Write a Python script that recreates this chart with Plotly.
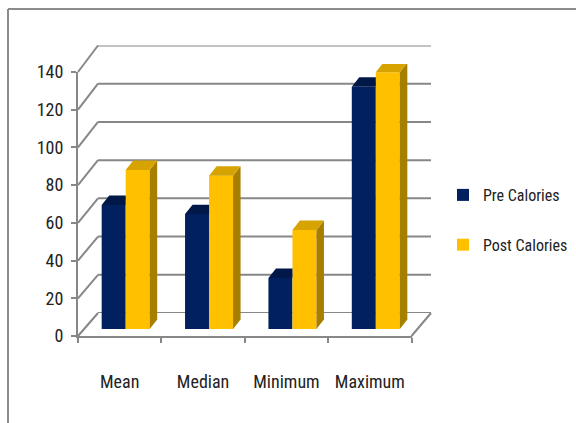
import plotly.graph_objects as go

# ---- data ----
categories = ["Mean", "Median", "Minimum", "Maximum"]
pre_calories = [65.5, 60.7, 27, 128]
post_calories = [84, 81, 52.3, 135.7]
y_ticks = [0, 20, 40, 60, 80, 100, 120, 140]

# ---- styling ----
FONT = "Roboto Condensed, DejaVu Sans Condensed, sans-serif"
TEXT = "#222222"
GRID = "#878787"
PRE_FRONT, PRE_TOP = "#002060", "#001848"
POST_FRONT, POST_TOP, POST_SIDE = "#FFC000", "#D6A300", "#A67F00"

W, H = 576, 423
BAR_W = 0.288          # width of a single column, in category units
DEPTH_X = 0.09         # column depth projected on x (category units)
DEPTH_Y = 5.0          # column depth projected on y (value units)

# pixel frames of the three depth planes: front wall, column plane, back wall
FRONT = dict(left=78, right=411.5, zero=336, top=72)
BARS = dict(left=84, right=417.5, zero=329, top=64)
BACK = dict(left=98, right=431, zero=313, top=45.5)
VMAX = 140


def xdom(p):
    return [p["left"] / W, p["right"] / W]


def ydom(p):
    return [1 - p["zero"] / H, 1 - p["top"] / H]


def to_paper(p, xpx, v):
    return xpx / W, 1 - (p["zero"] - (p["zero"] - p["top"]) * v / VMAX) / H


fig = go.Figure()

# front axes (tick labels) need a trace to exist
fig.add_trace(go.Scatter(x=categories, y=[0] * len(categories), mode="markers",
                         marker=dict(opacity=0), hoverinfo="skip",
                         showlegend=False, xaxis="x", yaxis="y"))
# back wall plane
fig.add_trace(go.Scatter(x=[0], y=[0], mode="markers", marker=dict(opacity=0),
                         hoverinfo="skip", showlegend=False,
                         xaxis="x3", yaxis="y3"))

idx = list(range(len(categories)))

# front faces of the columns
fig.add_trace(go.Bar(x=idx, y=pre_calories, width=BAR_W, offset=-BAR_W,
                     name="Pre Calories", legendgroup="pre",
                     marker=dict(color=PRE_FRONT, line=dict(width=0)),
                     xaxis="x2", yaxis="y2"))
fig.add_trace(go.Bar(x=idx, y=post_calories, width=BAR_W, offset=0,
                     name="Post Calories", legendgroup="post",
                     marker=dict(color=POST_FRONT, line=dict(width=0)),
                     xaxis="x2", yaxis="y2"))


def face(xs, ys, color):
    fig.add_trace(go.Scatter(x=xs + [xs[0]], y=ys + [ys[0]], mode="lines",
                             fill="toself", fillcolor=color,
                             line=dict(width=0, color=color),
                             hoverinfo="skip", showlegend=False,
                             xaxis="x2", yaxis="y2"))


# top / side faces give the columns their depth
for i, pre, post in zip(idx, pre_calories, post_calories):
    x0, x1, x2 = i - BAR_W, i, i + BAR_W
    if post >= pre:
        # the taller neighbour hides the right part of this top face
        face([x0, x0 + DEPTH_X, x1, x1], [pre, pre + DEPTH_Y, pre + DEPTH_Y, pre], PRE_TOP)
    else:
        face([x0, x0 + DEPTH_X, x1 + DEPTH_X, x1], [pre, pre + DEPTH_Y, pre + DEPTH_Y, pre], PRE_TOP)
    face([x2, x2, x2 + DEPTH_X, x2 + DEPTH_X], [0, post, post + DEPTH_Y, DEPTH_Y], POST_SIDE)
    face([x1, x1 + DEPTH_X, x2 + DEPTH_X, x2], [post, post + DEPTH_Y, post + DEPTH_Y, post], POST_TOP)

# ---- wall / floor edges ----
grid_line = dict(color=GRID, width=2)
shapes = []
for v in y_ticks:
    # horizontal gridline on the back wall
    shapes.append(dict(type="line", xref="x3 domain", yref="y3", x0=0, x1=1,
                       y0=v, y1=v, line=grid_line, layer="below"))
    # receding edge on the left side wall
    fx, fy = to_paper(FRONT, FRONT["left"], v)
    bx, by = to_paper(BACK, BACK["left"], v)
    shapes.append(dict(type="line", xref="paper", yref="paper", x0=fx, y0=fy,
                       x1=bx, y1=by, line=grid_line, layer="below"))
# right edge of the floor
fx, fy = to_paper(FRONT, FRONT["right"], 0)
bx, by = to_paper(BACK, BACK["right"], 0)
shapes.append(dict(type="line", xref="paper", yref="paper", x0=fx, y0=fy,
                   x1=bx, y1=by, line=grid_line, layer="below"))
# chart area border (left and top edges)
border = dict(color="#8c8c8c", width=2)
shapes.append(dict(type="line", xref="paper", yref="paper", x0=8 / W, y0=0,
                   x1=8 / W, y1=1 - 9 / H, line=border))
shapes.append(dict(type="line", xref="paper", yref="paper", x0=8 / W, y0=1 - 9 / H,
                   x1=1, y1=1 - 9 / H, line=border))

fig.update_layout(
    width=W, height=H, autosize=False,
    margin=dict(l=0, r=0, t=0, b=0),
    paper_bgcolor="white", plot_bgcolor="rgba(0,0,0,0)",
    barmode="overlay",
    font=dict(family=FONT, color=TEXT, size=18),
    shapes=shapes,
    showlegend=True,
    legend=dict(x=443 / W, y=1 - 220 / H, xanchor="left", yanchor="middle",
                font=dict(family=FONT, size=16, color=TEXT),
                tracegroupgap=26, itemwidth=30, bgcolor="rgba(0,0,0,0)"),
    xaxis=dict(domain=xdom(FRONT), type="category", categoryarray=categories,
               range=[-0.5, 3.5], tickson="boundaries", ticks="outside",
               ticklen=5, tickwidth=1.5, tickcolor=GRID, showline=True,
               linecolor=GRID, linewidth=2, showgrid=False, zeroline=False,
               tickangle=0, ticklabelstandoff=28, automargin=False,
               anchor="y", fixedrange=True),
    yaxis=dict(domain=ydom(FRONT), range=[0, VMAX], tickvals=y_ticks,
               ticks="outside", ticklen=5, tickwidth=1.5, tickcolor=GRID,
               showline=True, linecolor=GRID, linewidth=2, showgrid=False,
               zeroline=False, ticklabelstandoff=4, automargin=False,
               anchor="x", fixedrange=True),
    xaxis2=dict(domain=xdom(BARS), range=[-0.5, 3.5], visible=False,
                anchor="y2", fixedrange=True),
    yaxis2=dict(domain=ydom(BARS), range=[0, VMAX], visible=False,
                anchor="x2", fixedrange=True),
    xaxis3=dict(domain=xdom(BACK), range=[-0.5, 3.5], visible=False,
                anchor="y3", fixedrange=True),
    yaxis3=dict(domain=ydom(BACK), range=[0, VMAX], visible=False,
                anchor="x3", fixedrange=True),
)

fig.write_html("out.html")
